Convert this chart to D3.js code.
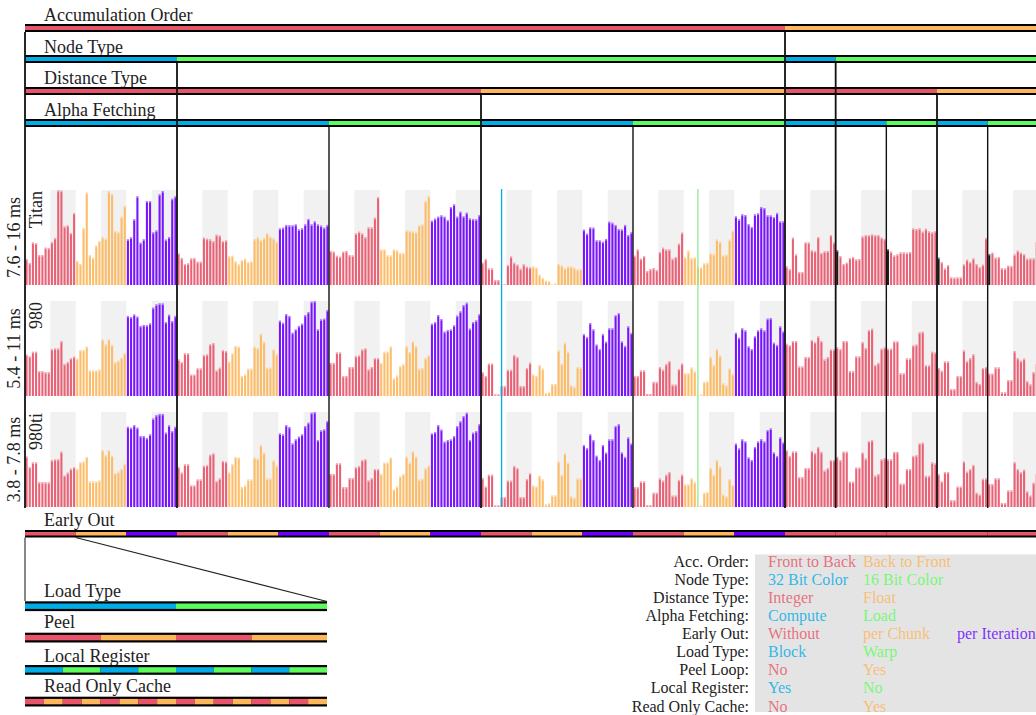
<!DOCTYPE html>
<html>
<head>
<meta charset="utf-8">
<script src="https://cdn.jsdelivr.net/npm/d3@7"></script>
<style>
  body { margin: 0; background: #fff; }
  svg { display: block; }
  text { font-family: "Liberation Serif", "Times New Roman", serif; fill: #222; }
</style>
</head>
<body>
<svg id="chart" width="1036" height="715"></svg>
<script>
// Palette shared by all factor strips and bars
const RED = "#E8556A", ORANGE = "#FDB65A", BLUE = "#00ADE6", GREEN = "#5CFC5C", PURPLE = "#6A00FF";
const redOrange = [RED, ORANGE, PURPLE];
const blueGreen = [BLUE, GREEN];

// Factor level of every group of 16 runs (20 groups, left to right)
const accOrder   = [0,0,0,0,0,0,0,0,0,0,0,0,0,0,0,1,1,1,1,1];
const nodeType   = [0,0,0,1,1,1,1,1,1,1,1,1,1,1,1,0,1,1,1,1];
const distType   = [0,0,0,0,0,0,0,0,0,1,1,1,1,1,1,0,0,0,1,1];
const alphaFetch = [0,0,0,0,0,0,1,1,1,0,0,0,1,1,1,0,0,1,0,1];
const earlyOut   = [0,1,2,0,1,2,0,1,2,0,1,2,0,1,2,0,0,0,0,0];

// Inner factors inside each group of 16 runs
const loadType   = [0,1];
const peelLoop   = [0,1,0,1];
const localReg   = [0,1,0,1,0,1,0,1];
const readOnly   = [0,1,0,1,0,1,0,1,0,1,0,1,0,1,0,1];

// Run times in ms, 16 per group
const titan = [
  9.90, 9.55,11.37,11.31,10.25,10.25,10.90,10.87,11.40,11.76,15.98,15.94,12.79,12.88,12.20,13.97,
  9.72, 9.46,12.64,15.76,10.25,10.02,11.08,11.49,11.84,11.70,15.91,15.65,12.37,12.29,13.64,14.61,
 11.64,11.81,13.41,15.44,11.34,11.64,15.03,15.03,12.26,12.43,15.62,15.91,11.61,11.84,15.23,15.44,
 10.40, 9.99, 9.46, 9.52, 9.96, 9.99, 9.66, 9.66,11.79,11.70,11.64,11.49,12.05,11.99,11.49,11.55,
 10.13,10.19, 9.69, 9.43, 9.81, 9.93, 9.63, 9.69,11.67,11.81,11.58,11.76,12.20,11.87,11.73,11.43,
 12.61,12.67,12.91,12.88,12.88,12.96,12.52,12.61,12.96,13.44,12.96,13.23,12.96,12.85,12.67,12.91,
 10.61,10.55,10.19,10.11,10.55,10.61,10.25,10.22,12.17,12.32,12.17,11.84,12.70,12.70,13.55,15.38,
 10.75,10.75,10.22,10.22,10.75,10.67,10.43,10.43,12.43,12.40,12.35,12.29,12.91,12.96,15.03,15.47,
 13.29,13.47,13.64,13.76,13.64,13.35,14.50,14.73,13.64,14.08,13.67,14.00,13.49,13.44,13.41,13.79,
  9.57, 9.90, 9.07, 9.07, 8.04, 8.04, 7.63, 7.66, 9.37,10.13, 9.57, 9.40, 9.04, 9.43, 9.22, 9.16,
  9.25, 9.13, 8.51, 8.22, 7.98, 7.95, 7.66, 7.75, 9.46, 9.34, 9.10, 9.25, 9.25, 9.13, 8.99, 9.01,
 12.49,12.14,12.70,12.67,11.55,11.55,11.43,11.67,13.20,13.11,12.91,12.55,12.52,12.91,12.02,12.26,
 10.19,10.75, 9.93,10.16, 8.84, 9.01, 9.10, 8.93,10.52,10.90,10.75,10.75, 9.93,10.08,11.25,12.23,
 10.05,10.64, 9.99,10.05, 9.22, 9.16, 9.52, 9.57,10.40,10.34,11.64,11.43,10.25,10.28,11.61,12.43,
 13.67,13.41,13.85,13.79,12.99,12.73,13.85,13.94,14.50,14.41,13.76,13.76,13.61,13.97,13.23,13.23,
  9.25, 9.01,11.79,10.31, 8.75, 8.75,11.37,11.37,10.67,10.61,11.84,10.43,10.58,10.61,12.02,11.37,
 10.67,10.16, 9.46, 9.57, 9.99,10.08, 9.87, 9.90,11.90,12.02,12.02,12.08,12.02,12.02,11.79,11.67,
 10.78,10.55,10.22,10.31,10.49,10.49,10.46,10.52,12.61,12.55,12.61,12.32,12.58,12.35,12.26,12.37,
 10.02, 9.63, 9.07, 9.37, 8.28, 8.25, 8.28, 8.28, 9.43, 9.84, 9.63, 9.96, 9.46, 9.19, 9.40,11.76,
 10.34,10.46,10.02,10.08, 9.10, 9.07, 9.31, 9.28,10.31,10.64,10.46,10.34, 9.93, 9.96, 9.96,11.40
];
const gtx980 = [
  7.84, 7.74, 8.01, 8.01, 6.87, 6.87, 6.81, 6.81, 8.17, 8.21, 8.21, 8.64, 7.29, 7.40, 7.64, 7.72,
  7.60, 8.11, 8.11, 8.31, 6.91, 6.91, 6.91, 6.95, 8.74, 8.45, 8.76, 8.41, 7.40, 7.48, 7.66, 7.93,
 10.12,10.06,10.21,10.08, 9.53, 9.59, 9.57, 9.68,10.61,10.80,10.86,10.86, 9.76,10.19, 9.82,10.12,
  7.56, 7.40, 7.92, 7.92, 6.66, 6.66, 7.03, 7.03, 7.82, 7.86, 8.45, 8.52, 6.91, 7.07, 8.11, 8.05,
  7.42, 7.92, 8.35, 8.31, 6.58, 6.68, 7.01, 7.01, 8.31, 8.23, 9.07, 8.60, 7.07, 7.07, 8.15, 7.86,
  9.84, 9.72,10.23,10.12, 9.13, 9.33, 9.53, 9.66,10.17,10.35,10.96,11.00, 9.33, 9.92, 9.96,10.47,
  7.35, 7.35, 7.97, 7.97, 6.58, 6.58, 7.11, 7.11, 7.76, 7.80, 8.15, 8.21, 6.97, 7.11, 7.64, 7.64,
  7.35, 8.01, 8.01, 8.31, 6.44, 6.60, 7.17, 7.27, 8.33, 7.99, 8.62, 8.33, 7.01, 7.05, 7.64, 7.80,
  9.66, 9.76,10.17, 9.94, 9.19, 9.29, 9.33, 9.57,10.14,10.39,10.76,10.90, 9.37, 9.76, 9.86,10.23,
  6.81, 6.58, 7.31, 7.31, 5.50, 5.50, 5.99, 5.99, 6.95, 6.95, 7.82, 7.70, 5.99, 5.99, 7.05, 7.36,
  6.68, 6.58, 7.23, 7.01, 5.58, 5.62, 6.11, 6.11, 8.09, 7.29, 8.54, 8.01, 6.03, 5.95, 7.11, 7.09,
  9.05, 8.88, 9.70, 9.33, 8.43, 8.17, 9.05, 8.60, 9.39, 9.39,10.16,10.29, 8.62, 8.35, 9.51, 9.11,
  6.58, 6.58, 6.91, 6.91, 5.52, 5.52, 6.23, 6.23, 7.11, 6.95, 7.29, 7.46, 6.07, 6.07, 6.99, 7.31,
  6.74, 6.74, 7.09, 6.85, 5.46, 5.50, 6.23, 6.26, 7.70, 7.23, 8.17, 7.78, 6.15, 6.03, 7.03, 6.70,
  9.13, 8.84, 9.39, 9.27, 8.33, 8.17, 8.92, 9.27, 9.39, 9.27, 9.96,10.00, 8.54, 8.41, 9.51, 9.21,
  8.48, 8.39, 8.64, 8.64, 7.15, 7.15, 7.70, 7.70, 8.70, 8.58, 8.92, 8.64, 7.56, 7.70, 8.15, 8.15,
  8.27, 8.17, 8.64, 8.64, 6.87, 6.87, 7.74, 7.74, 8.58, 8.23, 9.29, 9.37, 7.23, 7.35, 8.19, 8.27,
  8.19, 8.19, 8.62, 8.62, 6.74, 6.74, 7.62, 7.62, 8.39, 8.43, 9.15, 9.19, 7.21, 7.21, 8.01, 7.97,
  7.05, 6.89, 7.44, 7.44, 5.81, 5.81, 6.58, 6.58, 8.09, 7.46, 7.64, 7.86, 6.23, 6.11, 7.05, 7.11,
  6.72, 6.72, 7.09, 7.09, 5.62, 5.62, 6.34, 6.34, 8.05, 7.64, 7.48, 7.60, 6.28, 6.09, 6.81, 7.29
];
const gtx980ti = [
  5.93, 5.48, 5.68, 5.68, 4.85, 4.85, 4.84, 4.84, 5.78, 5.81, 5.81, 6.13, 5.13, 5.25, 5.41, 5.48,
  5.41, 5.69, 5.71, 5.91, 4.88, 4.88, 4.88, 4.92, 6.20, 5.99, 6.20, 5.96, 5.23, 5.29, 5.41, 5.62,
  7.18, 7.14, 7.25, 7.14, 6.79, 6.79, 6.71, 6.86, 7.53, 7.67, 7.72, 7.72, 6.93, 7.24, 7.00, 7.18,
  5.48, 5.25, 5.60, 5.60, 4.71, 4.71, 4.96, 4.96, 5.54, 5.57, 6.00, 6.06, 4.89, 5.01, 5.74, 5.71,
  5.25, 5.60, 5.91, 5.88, 4.64, 4.71, 4.96, 4.96, 5.88, 5.84, 6.41, 6.09, 5.01, 5.01, 5.76, 5.55,
  6.90, 6.86, 7.25, 7.17, 6.48, 6.65, 6.76, 6.86, 7.21, 7.35, 7.77, 7.80, 6.62, 7.03, 7.07, 7.42,
  5.19, 5.19, 5.64, 5.64, 4.64, 4.64, 5.02, 5.02, 5.48, 5.53, 5.78, 5.81, 4.92, 5.02, 5.40, 5.40,
  5.19, 5.67, 5.67, 5.88, 4.54, 4.67, 5.09, 5.18, 5.92, 5.67, 6.14, 5.92, 4.96, 4.99, 5.43, 5.55,
  6.90, 6.96, 7.25, 7.06, 6.55, 6.62, 6.65, 6.79, 7.21, 7.41, 7.63, 7.77, 6.62, 6.93, 7.00, 7.29,
  5.02, 4.66, 5.16, 5.16, 3.87, 3.87, 4.22, 4.22, 4.91, 4.91, 5.53, 5.44, 4.22, 4.22, 4.98, 5.22,
  4.71, 4.66, 5.11, 4.96, 3.91, 3.95, 4.29, 4.29, 5.72, 5.15, 6.06, 5.67, 4.25, 4.19, 5.01, 5.01,
  6.41, 6.28, 6.86, 6.62, 5.96, 5.78, 6.41, 6.09, 6.65, 6.65, 7.21, 7.29, 6.10, 5.91, 6.73, 6.47,
  4.64, 4.64, 4.88, 4.88, 3.88, 3.88, 4.40, 4.40, 5.01, 4.91, 5.16, 5.27, 4.28, 4.28, 4.94, 5.16,
  4.75, 4.75, 5.01, 4.84, 3.84, 3.87, 4.40, 4.43, 5.44, 5.15, 5.78, 5.50, 4.33, 4.25, 4.98, 4.73,
  6.47, 6.27, 6.65, 6.56, 5.89, 5.78, 6.33, 6.56, 6.66, 6.56, 7.04, 7.11, 6.10, 5.95, 6.73, 6.52,
  6.19, 5.95, 6.14, 6.14, 5.06, 5.06, 5.44, 5.44, 6.16, 6.07, 6.33, 6.12, 5.34, 5.44, 5.78, 5.78,
  5.91, 5.78, 6.13, 6.13, 4.87, 4.87, 5.46, 5.46, 6.09, 5.84, 6.58, 6.62, 5.12, 5.19, 5.81, 5.86,
  5.81, 5.81, 6.12, 6.12, 4.78, 4.78, 5.40, 5.40, 5.95, 5.98, 6.48, 6.51, 5.11, 5.11, 5.68, 5.64,
  5.18, 4.88, 5.27, 5.27, 4.09, 4.09, 4.66, 4.66, 5.72, 5.29, 5.40, 5.57, 4.40, 4.32, 4.99, 5.01,
  4.77, 4.77, 5.01, 5.01, 3.97, 3.97, 4.50, 4.50, 5.69, 5.40, 5.27, 5.37, 4.46, 4.28, 4.82, 5.18
];

// Device rows: name, axis range label and value range
const deviceNames  = ["Titan", "980", "980ti"];
const rangeLabels  = ["7.6 - 16 ms", "5.4 - 11 ms", "3.8 - 7.8 ms"];
const rangeDomains = [[7.6, 16], [5.4, 11], [3.8, 7.8]];
const deviceValues = [titan, gtx980, gtx980ti];

// Runs drawn dark in the Titan row (group, run)
const darkRuns = [[16,0],[17,0],[18,0],[19,0]];
// Marked runs (group, run, colour)
const markedRuns = [[9, 6, BLUE], [13, 4, "#8FEA8F"]];

// Legend table
const legendTitles = ["Acc. Order:", "Node Type:", "Distance Type:", "Alpha Fetching:", "Early Out:",
                      "Load Type:", "Peel Loop:", "Local Register:", "Read Only Cache:"];
const legendOptions = [
  ["Front to Back", "Back to Front"], ["32 Bit Color", "16 Bit Color"], ["Integer", "Float"],
  ["Compute", "Load"], ["Without", "per Chunk", "per Iteration"], ["Block", "Warp"],
  ["No", "Yes"], ["Yes", "No"], ["No", "Yes"]
];
const legendPalettes = [redOrange, blueGreen, redOrange, blueGreen, redOrange, blueGreen, redOrange, blueGreen, redOrange];

// ---------------------------------------------------------------------------
const svg = d3.select("#chart");
const nGroups = accOrder.length, perGroup = 16;
const X0 = 25, X1 = 25 + nGroups * 50.667;
const FS = 18;

const xg = d3.scaleBand().domain(d3.range(nGroups)).range([X0, X1]);
const xb = d3.scaleBand().domain(d3.range(nGroups * perGroup)).range([X0, X1])
  .paddingInner(0.34).paddingOuter(0.17);

// Strip: black frame with coloured runs inside
function strip(g, y, x0, x1, runs, frame, inner) {
  g.append("rect").attr("x", x0).attr("y", y).attr("width", x1 - x0).attr("height", frame + inner + frame)
    .attr("fill", "#000");
  g.selectAll(null).data(runs).join("rect")
    .attr("x", d => d.x0).attr("width", d => d.x1 - d.x0)
    .attr("y", y + frame).attr("height", inner)
    .attr("fill", d => d.color);
}
function runsOf(levels, palette) {
  const out = [];
  levels.forEach((v, i) => {
    const last = out[out.length - 1];
    if (last && last.v === v) last.x1 = xg(i) + xg.bandwidth();
    else out.push({ v, x0: xg(i), x1: xg(i) + xg.bandwidth(), color: palette[v] });
  });
  out[out.length - 1].x1 = 1040;
  return out;
}

// Header strips
const header = [
  { label: "Accumulation Order", levels: accOrder, pal: redOrange, y: 24, ty: 21 },
  { label: "Node Type", levels: nodeType, pal: blueGreen, y: 55, ty: 53 },
  { label: "Distance Type", levels: distType, pal: redOrange, y: 87, ty: 84 },
  { label: "Alpha Fetching", levels: alphaFetch, pal: blueGreen, y: 119, ty: 115.5 }
];
const gHead = svg.append("g");
header.forEach(h => {
  gHead.append("text").attr("x", 44).attr("y", h.ty).attr("font-size", FS).text(h.label);
  strip(gHead, h.y, X0, 1040, runsOf(h.levels, h.pal), 2, 4);
});

// Row panels
const rowTop = [190, 301, 412], rowH = 95;
const gRows = svg.append("g");
deviceValues.forEach((vals, r) => {
  const top = rowTop[r], base = top + rowH;
  const y = d3.scaleLinear().domain(rangeDomains[r]).range([base, top]).clamp(true);

  // grey backdrop behind the Warp half of every group
  gRows.selectAll(null).data(d3.range(nGroups)).join("rect")
    .attr("x", k => xg(k) + xg.bandwidth() / 2).attr("width", xg.bandwidth() / 2)
    .attr("y", top).attr("height", rowH).attr("fill", "#F1F1F1");

  const dark = new Set(r === 0 ? darkRuns.map(d => d[0] * perGroup + d[1]) : []);
  const bars = vals.map((v, i) => ({ i, v, g: Math.floor(i / perGroup) }));
  gRows.selectAll(null).data(bars).join("rect")
    .attr("x", d => xb(d.i)).attr("width", xb.bandwidth())
    .attr("y", d => y(d.v)).attr("height", d => base - y(d.v))
    .attr("fill", d => dark.has(d.i) ? "#1a1a1a" : redOrange[earlyOut[d.g]])
    .attr("fill-opacity", d => dark.has(d.i) ? 1 : 0.92);
  // lighter cap on each bar
  gRows.selectAll(null).data(bars).join("rect")
    .attr("x", d => xb(d.i)).attr("width", xb.bandwidth())
    .attr("y", d => y(d.v)).attr("height", d => Math.min(1.6, base - y(d.v)))
    .attr("fill", "#fff").attr("opacity", 0.45);

  gRows.append("text").attr("font-size", FS).attr("text-anchor", "middle")
    .attr("transform", `translate(20,${top + rowH / 2}) rotate(-90)`).text(rangeLabels[r]);
  gRows.append("text").attr("font-size", FS).attr("text-anchor", "end")
    .attr("transform", `translate(41.5,${top + 1}) rotate(-90)`).text(deviceNames[r]);
});

// Marked runs
markedRuns.forEach(([g, i, c]) => {
  const cx = xb(g * perGroup + i) + xb.bandwidth() / 2;
  svg.append("line").attr("x1", cx).attr("x2", cx).attr("y1", 189).attr("y2", 507)
    .attr("stroke", c).attr("stroke-width", 1.3);
});

// Group separators: start below the outermost factor that changes
const levelsTop = [accOrder, nodeType, distType, alphaFetch];
const lineStart = [32, 63, 95, 127];
const gLines = svg.append("g");
gLines.append("line").attr("x1", X0).attr("x2", X0).attr("y1", 32).attr("y2", 508)
  .attr("stroke", "#111").attr("stroke-width", 1.8);
for (let k = 1; k < nGroups; k++) {
  let lvl = -1;
  for (let L = 0; L < levelsTop.length; L++) {
    if (levelsTop[L][k] !== levelsTop[L][k - 1]) { lvl = L; break; }
  }
  if (lvl < 0) continue;
  const xx = xg(k);
  gLines.append("line").attr("x1", xx).attr("x2", xx).attr("y1", lineStart[lvl]).attr("y2", 508)
    .attr("stroke", "#111").attr("stroke-width", lvl === 3 ? 1.4 : 1.8);
}

// Early-out strip
const gFoot = svg.append("g");
gFoot.append("text").attr("x", 44).attr("y", 525.5).attr("font-size", FS).text("Early Out");
strip(gFoot, 530, X0, 1040, d3.range(nGroups).map(k => ({ x0: xg(k), x1: k === nGroups - 1 ? 1040 : xg(k) + xg.bandwidth(), color: redOrange[earlyOut[k]] })), 2, 3.5);

// Zoom-out connector for one group
const L0 = X0, L1 = 327;
gFoot.append("line").attr("x1", X0).attr("x2", X0).attr("y1", 537.5).attr("y2", 601)
  .attr("stroke", "#555").attr("stroke-width", 1.4);
gFoot.append("line").attr("x1", xg(0) + xg.bandwidth()).attr("x2", L1).attr("y1", 537.5).attr("y2", 601.5)
  .attr("stroke", "#222").attr("stroke-width", 1.1);

// Inner factor strips
const inner = [
  { label: "Load Type", levels: loadType, pal: blueGreen, y: 601.3, ty: 597 },
  { label: "Peel", levels: peelLoop, pal: redOrange, y: 632.7, ty: 628.3 },
  { label: "Local Register", levels: localReg, pal: blueGreen, y: 665, ty: 661.5 },
  { label: "Read Only Cache", levels: readOnly, pal: redOrange, y: 696.7, ty: 692.3 }
];
inner.forEach(s => {
  const xs = d3.scaleBand().domain(d3.range(s.levels.length)).range([L0, L1]);
  gFoot.append("text").attr("x", 44).attr("y", s.ty).attr("font-size", FS).text(s.label);
  strip(gFoot, s.y, L0, L1, s.levels.map((v, i) => ({ x0: xs(i), x1: xs(i) + xs.bandwidth(), color: s.pal[v] })), 2.2, 5.4);
});

// Legend table
const gLeg = svg.append("g");
gLeg.append("rect").attr("x", 755).attr("y", 554.5).attr("width", 290).attr("height", 157.5).attr("fill", "#E4E4E4");
const colX = [768, 863, 957];
legendTitles.forEach((t, r) => {
  const by = 566.7 + r * 18.1;
  gLeg.append("text").attr("x", 749).attr("y", by).attr("text-anchor", "end").attr("font-size", 16).text(t);
  legendOptions[r].forEach((o, c) => {
    gLeg.append("text").attr("x", colX[c]).attr("y", by).attr("font-size", 16)
      .style("fill", legendPalettes[r][c]).style("fill-opacity", 0.82).text(o);
  });
});
</script>
</body>
</html>
